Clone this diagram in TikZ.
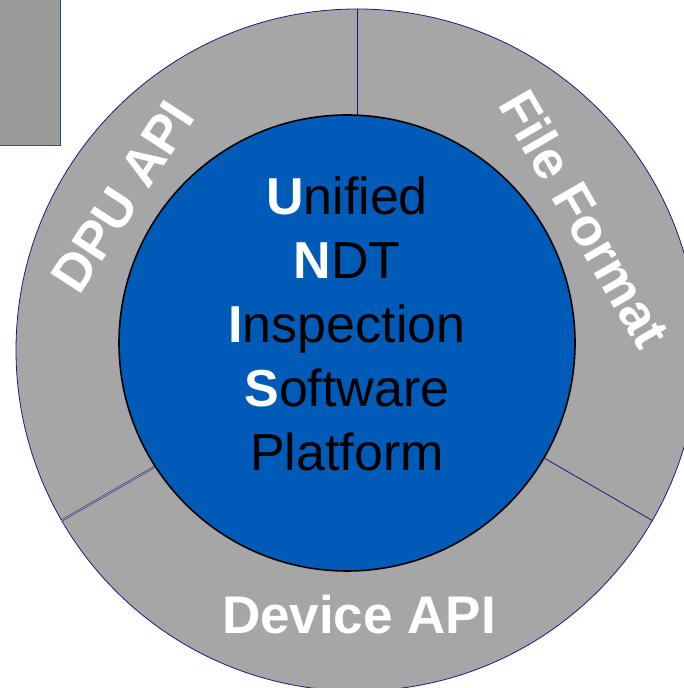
\documentclass[tikz,border=0pt]{standalone}
\usepackage{fontspec}
\setmainfont{Liberation Sans}
\usepackage{tikz}
\usetikzlibrary{arrows.meta}

\definecolor{ringgray}{RGB}{166,166,166}
\definecolor{boxgray}{RGB}{155,155,155}
\definecolor{coreblue}{RGB}{0,91,184}
\definecolor{ringline}{RGB}{25,30,125}
\definecolor{boxline}{RGB}{30,80,150}

\newcommand{\initial}[1]{\textcolor{white}{\textbf{#1}}}

\begin{document}
\begin{tikzpicture}[x=1pt, y=1pt,
    ring/.style={circle, inner sep=0, fill=ringgray, draw=ringline, line width=0.8pt},
    core/.style={circle, inner sep=0, fill=coreblue, draw=black, line width=1.6pt},
    divider/.style={draw=ringline, line width=0.8pt},
    word/.style={anchor=base, text=black, font=\fontsize{52}{60}\selectfont},
    ringlabel/.style={text=white, inner sep=0, font=\fontsize{53}{60}\selectfont\bfseries}]
    \useasboundingbox (0, 0) rectangle (684, 688);
    \clip (0, 0) rectangle (684, 688);

    %Nodes
    \node[draw=boxline, fill=boxgray, line width=1pt, minimum width=70, minimum height=156, inner sep=0] at (25, 620) (side) {};
    \node[ring, minimum size=682] at (357, 338) (ring) {};

    %Lines
    \draw[divider] (ring.center) -- (ring.90);
    \draw[divider] (ring.center) -- (ring.-30);
    \draw[divider, double=ringgray, double distance=0.9pt, line width=0.5pt] (ring.center) -- (ring.210);

    %Nodes
    \node[core, minimum size=456] at (347, 345) (core) {};
    \node[word] at (347, 473) (unified) {\initial{U}nified};
    \node[word] at (347, 409) (ndt) {\initial{N}DT};
    \node[word] at (347, 345) (inspection) {\initial{I}nspection};
    \node[word] at (347, 281) (software) {\initial{S}oftware};
    \node[word] at (347, 217) (platform) {Platform};

    \node[ringlabel, rotate=57] at (123, 491) (dpu) {DPU API};
    \node[ringlabel, rotate=-60] at (585, 469) (file) {File Format};
    \node[ringlabel, anchor=base] at (359, 54) (device) {Device API};

\end{tikzpicture}
\end{document}
